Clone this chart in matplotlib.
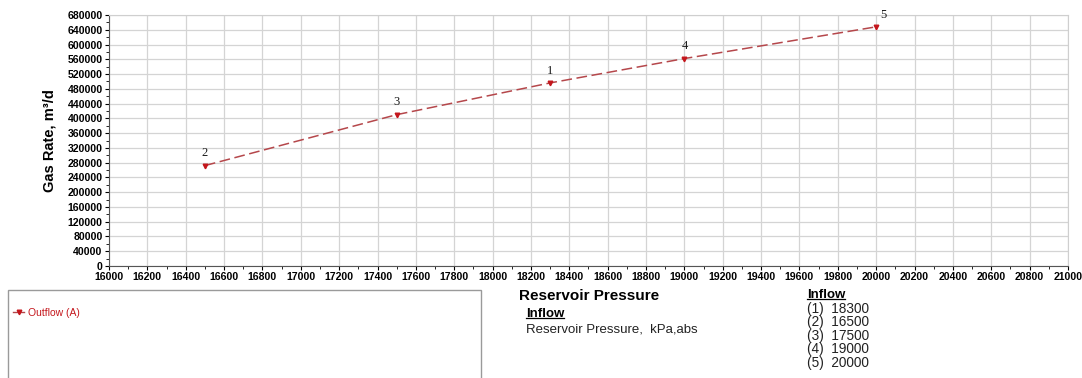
import matplotlib
matplotlib.use("Agg")
import matplotlib.pyplot as plt
from matplotlib.lines import Line2D
from matplotlib.patches import Rectangle
from matplotlib.ticker import MultipleLocator
import numpy as np

plt.rcParams['font.family'] = ['Liberation Sans', 'DejaVu Sans']

# inflow cases (1)..(5): reservoir pressure [kPa,abs] and gas rate [m3/d]
case_ids = [1, 2, 3, 4, 5]
res_pressure = [18300, 16500, 17500, 19000, 20000]
gas_rate = [496000, 272000, 410000, 562000, 648000]

line_col = '#b5474b'
mark_col = '#c4161c'

fig = plt.figure(figsize=(10.82, 3.78), dpi=100)
ax = fig.add_axes([0.1007, 0.2963, 0.8864, 0.664])

order = np.argsort(res_pressure)
xs = np.array(res_pressure)[order]
ys = np.array(gas_rate)[order]
ax.plot(xs, ys, color=line_col, lw=1.1, dashes=(7, 3), zorder=3)
ax.plot(xs, ys, ls='none', marker='v', ms=3.3, color=mark_col, zorder=4,
        label='Outflow (A)')

for cid, x, y in zip(case_ids, res_pressure, gas_rate):
    dx = 5 if cid == 5 else 0
    ax.annotate(str(cid), (x, y), xytext=(dx, 4.5), textcoords='offset points',
                ha='center', va='bottom', fontsize=9, family='Liberation Serif',
                color='#1a1a1a')

ax.set_xlim(16000, 21000)
ax.set_ylim(0, 680000)
ax.xaxis.set_major_locator(MultipleLocator(200))
ax.xaxis.set_minor_locator(MultipleLocator(100))
ax.yaxis.set_major_locator(MultipleLocator(40000))
ax.yaxis.set_minor_locator(MultipleLocator(20000))
ax.grid(True, which='major', color='#d4d4d4', lw=0.9)
ax.set_axisbelow(True)
ax.tick_params(which='major', length=3, width=0.8, labelsize=7.6, pad=1.5)
ax.tick_params(which='minor', length=2, width=0.6)
for lab in ax.get_xticklabels() + ax.get_yticklabels():
    lab.set_fontweight('bold')
for s in ['top', 'right']:
    ax.spines[s].set_color('#cfcfcf')
for s in ['left', 'bottom']:
    ax.spines[s].set_color('#555555')
ax.set_ylabel('Gas Rate, m³/d', fontsize=10.5, fontweight='bold', labelpad=8)

# legend panel
fig.add_artist(Rectangle((8 / 1082, -0.05), 473 / 1082, 1 - 290 / 378 + 0.05,
                         transform=fig.transFigure, fill=False,
                         edgecolor='#9a9a9a', lw=1))
fig.legend(handles=[Line2D([], [], color=line_col, marker='v', ms=3.3, lw=1,
                           markerfacecolor=mark_col, markeredgecolor=mark_col)],
           labels=['Outflow (A)'], loc='center left',
           bbox_to_anchor=(4 / 1082, 1 - 313 / 378), frameon=False,
           handlelength=1.0, handletextpad=0.4, fontsize=7.5,
           labelcolor=mark_col)

fig.text(519 / 1082, 1 - 296 / 378, 'Reservoir Pressure', fontsize=11,
         fontweight='bold', va='center', ha='left')
t1 = fig.text(526 / 1082, 1 - 314 / 378, 'Inflow', fontsize=9.5,
              fontweight='bold', va='center', ha='left')
fig.text(526 / 1082, 1 - 330 / 378, 'Reservoir Pressure,  kPa,abs',
         fontsize=9.5, va='center', ha='left', color='#222222')

t2 = fig.text(807 / 1082, 1 - 295 / 378, 'Inflow', fontsize=9.5,
              fontweight='bold', va='center', ha='left')
for i, (cid, p) in enumerate(zip(case_ids, res_pressure)):
    fig.text(807 / 1082, 1 - (309 + 13.4 * i) / 378, f'({cid})  {p}',
             fontsize=9.8, va='center', ha='left', color='#222222')

# underline the section headings
fig.canvas.draw()
inv = fig.transFigure.inverted()
for t in (t1, t2):
    bb = t.get_window_extent().transformed(inv)
    yl = bb.y0 + 0.15 * bb.height
    fig.add_artist(Line2D([bb.x0, bb.x1], [yl, yl],
                          transform=fig.transFigure, color='black', lw=0.9))

fig.savefig('out.png', dpi=100)
